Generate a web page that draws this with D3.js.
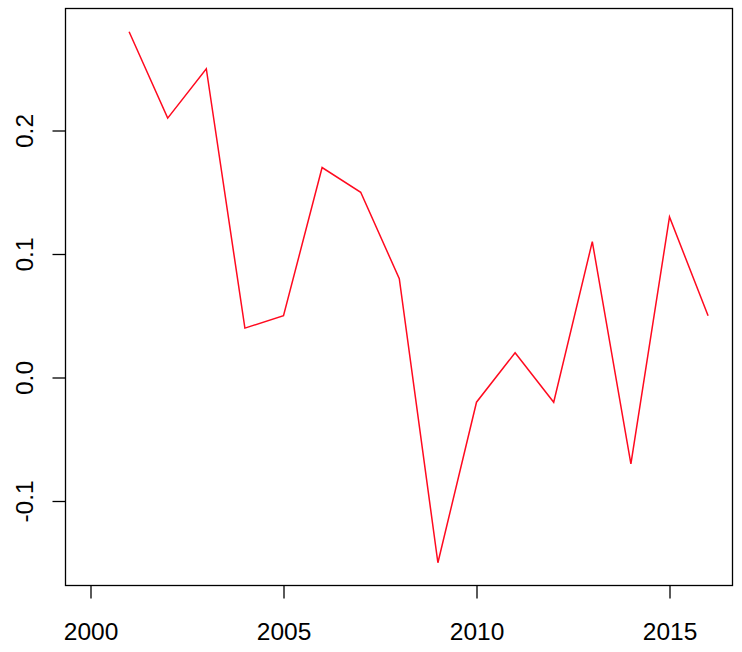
<!DOCTYPE html>
<html><head><meta charset="utf-8">
<script src="https://d3js.org/d3.v7.min.js"></script>
<style>body{margin:0;background:#fff}</style>
</head><body>
<script>
const years = [2001,2002,2003,2004,2005,2006,2007,2008,2009,2010,2011,2012,2013,2014,2015,2016];
const values = [0.28,0.21,0.25,0.04,0.05,0.17,0.15,0.08,-0.15,-0.02,0.02,-0.02,0.11,-0.07,0.13,0.05];
const xTicks = [2000,2005,2010,2015];
const yTicks = [-0.1,0.0,0.1,0.2];
const yTickLabels = ["-0.1","0.0","0.1","0.2"];

(function(){
const W = 742, H = 652;
const svg = d3.select("body").append("svg").attr("width", W).attr("height", H);
const pLeft = 65.5, pRight = 732.5, pTop = 8.5, pBottom = 585.5;
const x = d3.scaleLinear().domain([2000, 2015]).range([90.5, 669.5]);
const y = d3.scaleLinear().domain([0, 0.2]).range([377.5, 130.5]);
const font = "Liberation Sans, Arial, sans-serif";

svg.append("rect").attr("x", pLeft).attr("y", pTop).attr("width", pRight-pLeft).attr("height", pBottom-pTop)
  .attr("fill", "none").attr("stroke", "#000").attr("stroke-width", 1.3);

const xa = svg.append("g").attr("transform", `translate(0,${pBottom})`)
  .call(d3.axisBottom(x).tickValues(xTicks).tickFormat(d3.format("d")).tickSize(13).tickPadding(24));
xa.select(".domain").remove();
xa.selectAll("line").attr("stroke", "#000").attr("stroke-width", 1.3);
xa.selectAll("text").attr("font-family", font).attr("font-size", 24.5).attr("fill", "#000");

const ya = svg.append("g").attr("transform", `translate(${pLeft},0)`)
  .call(d3.axisLeft(y).tickValues(yTicks).tickFormat((d,i)=>yTickLabels[i]).tickSize(13));
ya.select(".domain").remove();
ya.selectAll("line").attr("stroke", "#000").attr("stroke-width", 1.3);
ya.selectAll("text").attr("font-family", font).attr("font-size", 24.5).attr("fill", "#000")
  .attr("text-anchor", "middle").attr("x", 0).attr("dy", 0)
  .attr("transform", "translate(-33,0) rotate(-90)");

const line = d3.line().x((d,i)=>x(years[i])).y(d=>y(d));
svg.append("path").datum(values).attr("d", line).attr("fill", "none")
  .attr("stroke", "#ff0a1f").attr("stroke-width", 1.5);
})();
</script>
</body></html>
